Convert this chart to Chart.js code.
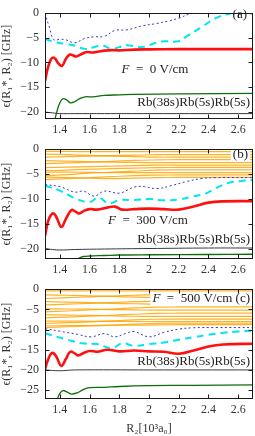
<!DOCTYPE html>
<html><head><meta charset="utf-8">
<script src="https://cdn.jsdelivr.net/npm/chart.js@4/dist/chart.umd.min.js"></script>
<style>
html,body{margin:0;padding:0;background:#fff;}
#wrap{position:relative;width:255px;height:436px;overflow:hidden;background:#fff;}
canvas{position:absolute;left:0;}
</style></head><body>
<div id="wrap">
<canvas id="ca" width="255" height="140" style="top:0px"></canvas>
<canvas id="cb" width="255" height="142" style="top:136px"></canvas>
<canvas id="cc" width="255" height="160" style="top:276px"></canvas>
</div>
<script>
// ---------- tick labels ----------
const xTickValues = [1.4, 1.6, 1.8, 2.0, 2.2, 2.4, 2.6];
const yTicksAB = [-20, -15, -10, -5, 0];
const yTicksC = [-25, -20, -15, -10, -5, 0];

// ---------- panel (a): F = 0 V/cm ----------
const xRedA = [1.3, 1.32, 1.34, 1.355, 1.37, 1.39, 1.415, 1.44, 1.467, 1.49, 1.51, 1.54, 1.58, 1.62, 1.66, 1.7, 1.75, 1.8, 1.9, 2.0, 2.2, 2.4, 2.7];
const redA  = [-13.8, -11.0, -9.4, -9.0, -9.3, -10.2, -10.7, -9.3, -8.4, -8.6, -8.8, -8.4, -7.9, -8.0, -7.8, -7.6, -7.5, -7.55, -7.4, -7.35, -7.3, -7.3, -7.3];
const xBlueA = [1.3, 1.33, 1.36, 1.4, 1.44, 1.5, 1.57, 1.63, 1.7, 1.77, 1.85, 1.95, 2.05, 2.13, 2.2, 2.28, 2.35, 2.5, 2.7];
const blueA  = [0, -2.9, -5.4, -5.3, -5.4, -6.0, -5.1, -4.8, -4.7, -3.5, -3.4, -2.6, -2.1, -1.6, -1.0, -0.1, 0.2, 0.5, 0.8];
const xCyanA = [1.3, 1.37, 1.45, 1.5, 1.57, 1.63, 1.68, 1.75, 1.8, 1.85, 1.95, 2.05, 2.1, 2.2, 2.25, 2.35, 2.45, 2.55, 2.65, 2.7];
const cyanA  = [-5.25, -5.9, -6.3, -6.6, -7.25, -6.9, -6.5, -7.25, -6.9, -6.5, -6.9, -6.0, -5.7, -5.7, -4.75, -2.9, -1.0, -0.1, -0.1, 0];
const xGreenA = [1.36, 1.38, 1.4, 1.42, 1.445, 1.47, 1.5, 1.53, 1.57, 1.62, 1.7, 1.8, 1.9, 2.2, 2.7];
const greenA  = [-22.5, -20.0, -18.2, -17.4, -17.6, -18.2, -18.0, -17.4, -17.0, -17.0, -16.7, -16.6, -16.5, -16.4, -16.3];
const xGrayA = [1.3, 1.35, 1.4, 1.5, 1.7, 2.0, 2.7];
const grayA  = [-20.1, -20.25, -20.4, -20.4, -20.4, -20.4, -20.4];

// ---------- panel (b): F = 300 V/cm ----------
const xRedB = [1.3, 1.32, 1.34, 1.36, 1.38, 1.41, 1.44, 1.478, 1.505, 1.53, 1.565, 1.6, 1.65, 1.72, 1.77, 1.82, 1.9, 2.0, 2.1, 2.2, 2.3, 2.4, 2.5, 2.7];
const redB  = [-17.4, -14.5, -13.2, -12.9, -13.8, -15.6, -14.0, -12.2, -12.5, -12.9, -12.3, -12.0, -12.1, -11.7, -11.5, -12.1, -12.0, -11.9, -12.0, -12.1, -11.5, -10.7, -10.45, -10.4];
const xBlueB = [1.3, 1.4, 1.5, 1.56, 1.63, 1.7, 1.8, 1.9, 1.97, 2.05, 2.15, 2.25, 2.35, 2.45, 2.7];
const blueB  = [-7.1, -7.5, -8.6, -8.4, -9.4, -8.4, -8.8, -7.6, -7.5, -7.9, -7.3, -6.5, -5.9, -5.7, -5.7];
const xCyanB = [1.3, 1.4, 1.5, 1.6, 1.66, 1.73, 1.8, 1.9, 2.0, 2.1, 2.2, 2.29, 2.38, 2.45, 2.53, 2.61, 2.7];
const cyanB  = [-7.3, -8.3, -9.8, -10.6, -9.7, -10.9, -10.2, -10.2, -10.0, -10.25, -10.1, -9.5, -8.9, -7.8, -6.8, -6.4, -6.2];
const xGreenB = [1.5, 1.53, 1.56, 1.6, 1.7, 1.8, 2.0, 2.4, 2.7];
const greenB  = [-22.5, -21.8, -21.5, -21.4, -21.3, -21.2, -21.15, -21.1, -21.05];
const xGrayB = [1.3, 1.35, 1.4, 1.5, 1.7, 2.0, 2.4, 2.7];
const grayB  = [-19.9, -20.1, -20.2, -20.1, -20.0, -19.9, -19.8, -19.8];

// ---------- panel (c): F = 500 V/cm ----------
const xRedC = [1.3, 1.32, 1.34, 1.355, 1.375, 1.41, 1.44, 1.47, 1.5, 1.525, 1.56, 1.6, 1.65, 1.72, 1.8, 1.9, 2.0, 2.1, 2.2, 2.3, 2.4, 2.5, 2.7];
const redC  = [-19.8, -17.5, -16.0, -15.8, -16.6, -19.0, -17.3, -15.5, -15.9, -16.4, -15.8, -15.3, -15.5, -15.0, -15.4, -15.2, -15.4, -15.5, -16.0, -15.2, -14.2, -13.7, -13.5];
const xBlueC = [1.3, 1.4, 1.52, 1.61, 1.7, 1.77, 1.84, 1.9, 2.0, 2.1, 2.2, 2.3, 2.45, 2.7];
const blueC  = [-9.8, -10.4, -11.2, -11.8, -11.0, -11.8, -11.0, -10.5, -11.8, -10.7, -9.9, -9.55, -9.5, -9.5];
const xCyanC = [1.3, 1.45, 1.55, 1.65, 1.75, 1.82, 1.9, 2.0, 2.1, 2.2, 2.3, 2.4, 2.5, 2.6, 2.7];
const cyanC  = [-10.9, -12.5, -13.4, -13.6, -14.6, -13.4, -14.05, -13.6, -13.2, -12.5, -11.9, -11.3, -10.8, -10.5, -10.25];
const xGreenC = [1.38, 1.4, 1.42, 1.45, 1.48, 1.52, 1.56, 1.6, 1.7, 1.8, 2.0, 2.3, 2.7];
const greenC  = [-27.5, -25.8, -25.1, -25.5, -26.0, -25.6, -24.8, -24.4, -24.3, -24.1, -23.9, -23.8, -23.7];
const xGrayC = [1.3, 1.4, 1.5, 2.0, 2.7];
const grayC  = [-20.0, -20.2, -20.0, -20.0, -20.0];

// ---------- orange manifold lines (panels b, c) ----------
const xOrange = [1.3, 1.45, 1.6, 1.75, 1.9, 2.05, 2.2, 2.35, 2.5, 2.7];
const orangeB = [
  [-0.45, -0.45, -0.5, -0.5, -0.5, -0.5, -0.5, -0.5, -0.5, -0.5],
  [-1.6, -1.5, -1.4, -1.3, -1.2, -1.1, -1.1, -1.1, -1.1, -1.1],
  [-1.0, -1.1, -1.25, -1.4, -1.5, -1.6, -1.6, -1.6, -1.6, -1.6],
  [-2.9, -2.75, -2.6, -2.45, -2.25, -2.15, -2.1, -2.1, -2.1, -2.1],
  [-2.3, -2.4, -2.5, -2.6, -2.65, -2.7, -2.7, -2.7, -2.7, -2.7],
  [-3.7, -3.6, -3.5, -3.4, -3.3, -3.2, -3.2, -3.2, -3.2, -3.2],
  [-4.3, -4.2, -4.0, -3.9, -3.8, -3.7, -3.65, -3.65, -3.65, -3.65],
  [-5.3, -5.1, -4.8, -4.6, -4.4, -4.2, -4.15, -4.15, -4.15, -4.15],
  [-4.6, -4.6, -4.65, -4.7, -4.7, -4.7, -4.7, -4.7, -4.7, -4.7],
  [-6.1, -5.9, -5.7, -5.5, -5.3, -5.2, -5.15, -5.15, -5.15, -5.15],
  [-5.6, -5.7, -5.8, -5.9, -5.8, -5.7, -5.65, -5.65, -5.65, -5.65]
];
const orangeC = [
  [-0.4, -0.4, -0.4, -0.4, -0.4, -0.4, -0.4, -0.4, -0.4, -0.4],
  [-2.3, -2.1, -1.9, -1.7, -1.5, -1.35, -1.3, -1.3, -1.3, -1.3],
  [-1.4, -1.5, -1.65, -1.8, -1.95, -2.05, -2.1, -2.1, -2.1, -2.1],
  [-3.9, -3.7, -3.5, -3.3, -3.1, -2.95, -2.9, -2.9, -2.9, -2.9],
  [-3.1, -3.2, -3.35, -3.5, -3.6, -3.7, -3.7, -3.7, -3.7, -3.7],
  [-5.6, -5.4, -5.15, -4.9, -4.65, -4.45, -4.4, -4.4, -4.4, -4.4],
  [-4.85, -4.9, -4.95, -5.05, -5.1, -5.2, -5.2, -5.2, -5.2, -5.2],
  [-7.1, -6.9, -6.7, -6.45, -6.2, -6.0, -5.95, -5.95, -5.95, -5.95],
  [-6.3, -6.4, -6.5, -6.6, -6.7, -6.75, -6.75, -6.75, -6.75, -6.75],
  [-8.5, -8.3, -8.1, -7.85, -7.6, -7.45, -7.4, -7.4, -7.4, -7.4],
  [-7.9, -7.9, -7.95, -7.95, -8.0, -8.0, -8.0, -8.0, -8.0, -8.0],
  [-9.5, -9.3, -9.1, -8.9, -8.65, -8.45, -8.4, -8.4, -8.4, -8.4],
  [-9.1, -9.0, -9.0, -8.95, -8.9, -8.85, -8.8, -8.8, -8.8, -8.8]
];

// ---------- helpers ----------
const SERIF = "'Liberation Serif', 'DejaVu Serif', serif";
const pts = (xs, ys) => xs.map((x, i) => ({x, y: ys[i]}));
const lineDs = (xs, ys, color, width, dash) => ({
  data: pts(xs, ys), borderColor: color, borderWidth: width, borderDash: dash || [],
  pointRadius: 0, tension: 0.4, fill: false
});
const RED = '#ff1010', CYAN = '#00e6f0', BLUE = '#3a3ab4', GREEN = '#0b6e0b', GRAY = '#3a3a3a', ORANGE = 'rgba(255,165,0,0.85)';

const framePlugin = {
  id: 'frame',
  afterDatasetsDraw(chart, args, opts) {
    const {ctx, chartArea: a, scales: {x, y}} = chart;
    ctx.save();
    (opts.labels || []).forEach(lb => {
      const parts = lb.parts;
      let w = 0;
      parts.forEach(p => { ctx.font = (p.italic ? 'italic ' : '') + '13px ' + SERIF; p.w = ctx.measureText(p.t).width; w += p.w; });
      let x0 = lb.align === 'center' ? lb.x - w / 2 : lb.x - w;
      const cy = lb.y - opts.offset;
      if (lb.box) { ctx.fillStyle = '#fff'; ctx.fillRect(x0 - 2, cy - 7, w + 4, 14); }
      ctx.fillStyle = '#222'; ctx.textBaseline = 'middle';
      parts.forEach(p => { ctx.font = (p.italic ? 'italic ' : '') + '13px ' + SERIF; ctx.fillText(p.t, x0, cy); x0 += p.w; });
    });
    ctx.strokeStyle = '#1a1a1a'; ctx.lineWidth = 1;
    const L = Math.round(a.left) + 0.5, R = Math.round(a.right) - 0.5, T = Math.round(a.top) + 0.5, B = Math.round(a.bottom) - 0.5;
    ctx.strokeRect(L, T, R - L, B - T);
    const TL = 4;
    ctx.beginPath();
    x.ticks.forEach(t => { const px = Math.round(x.getPixelForValue(t.value)) + 0.5; ctx.moveTo(px, B); ctx.lineTo(px, B - TL); ctx.moveTo(px, T); ctx.lineTo(px, T + TL); });
    y.ticks.forEach(t => { const py = Math.round(y.getPixelForValue(t.value)) + 0.5; ctx.moveTo(L, py); ctx.lineTo(L + TL, py); ctx.moveTo(R, py); ctx.lineTo(R - TL, py); });
    ctx.stroke();
    ctx.restore();
  }
};

function makeChart(id, datasets, yMin, yTicks, padTop, xAxisH, showXTitle, labels, offset) {
  return new Chart(document.getElementById(id), {
    type: 'line',
    data: {datasets},
    options: {
      responsive: false, animation: false, devicePixelRatio: 1,
      layout: {padding: {top: padTop, right: 2, left: 0, bottom: 0}},
      plugins: {legend: {display: false}, tooltip: {enabled: false}, frame: {labels, offset}},
      scales: {
        x: {
          type: 'linear', min: 1.3, max: 2.7,
          grid: {display: false, drawTicks: false}, border: {display: false},
          afterBuildTicks: s => { s.ticks = xTickValues.map(v => ({value: v})); },
          ticks: {padding: 4, color: '#333', maxRotation: 0, autoSkip: false,
                  font: {family: SERIF, size: 12},
                  callback: v => String(Math.round(v * 10) / 10)},
          title: {display: showXTitle, text: 'R₂[10³a₀]', color: '#333', font: {family: SERIF, size: 12}, padding: 0},
          afterFit: s => { s.height = xAxisH; }
        },
        y: {
          min: yMin, max: 0,
          grid: {display: false, drawTicks: false}, border: {display: false},
          afterBuildTicks: s => { s.ticks = yTicks.map(v => ({value: v})); },
          ticks: {padding: 6, color: '#333', autoSkip: false,
                  font: {family: SERIF, size: 12},
                  callback: v => v < 0 ? '\u2212' + Math.abs(v) : String(v)},
          title: {display: true, text: 'ϵ(R₁*, R₂) [GHz]', color: '#333', font: {family: SERIF, size: 12}, padding: {top: 0, bottom: 0}},
          afterFit: s => { s.width = 45; }
        }
      }
    },
    plugins: [framePlugin]
  });
}

const rbLabel = {t: 'Rb(38s)Rb(5s)Rb(5s)'};

makeChart('ca', [
  lineDs(xRedA, redA, RED, 2.6),
  lineDs(xBlueA, blueA, BLUE, 1, [2, 2.5]),
  lineDs(xCyanA, cyanA, CYAN, 2, [7, 5]),
  lineDs(xGreenA, greenA, GREEN, 1.3),
  lineDs(xGrayA, grayA, GRAY, 1)
], -21.5, yTicksAB, 5, 21, false, [
  {parts: [{t: '(a)'}], x: 247, y: 15, box: true},
  {parts: [{t: 'F', italic: true}, {t: '\u2002=\u20020 V/cm'}], x: 155, y: 70, align: 'center'},
  {parts: [rbLabel], x: 250, y: 103, box: true}
], 0);

makeChart('cb', [
  lineDs(xRedB, redB, RED, 2.6),
  lineDs(xBlueB, blueB, BLUE, 1, [2, 2.5]),
  lineDs(xCyanB, cyanB, CYAN, 2, [7, 5]),
  lineDs(xGreenB, greenB, GREEN, 1.3),
  lineDs(xGrayB, grayB, GRAY, 1),
  ...orangeB.map(o => lineDs(xOrange, o, ORANGE, 1.2))
], -22, yTicksAB, 9, 19, false, [
  {parts: [{t: '(b)'}], x: 248, y: 155, box: true},
  {parts: [{t: 'F', italic: true}, {t: '\u2002=\u2002300 V/cm'}], x: 148, y: 221, align: 'center'},
  {parts: [rbLabel], x: 250, y: 240, box: true}
], 136);

makeChart('cc', [
  lineDs(xRedC, redC, RED, 2.6),
  lineDs(xBlueC, blueC, BLUE, 1, [2, 2.5]),
  lineDs(xCyanC, cyanC, CYAN, 2, [7, 5]),
  lineDs(xGreenC, greenC, GREEN, 1.3),
  lineDs(xGrayC, grayC, GRAY, 1),
  ...orangeC.map(o => lineDs(xOrange, o, ORANGE, 1.2))
], -27.2, yTicksC, 9, 37, true, [
  {parts: [{t: 'F', italic: true}, {t: '\u2002=\u2002500 V/cm (c)'}], x: 250, y: 299, box: true},
  {parts: [rbLabel], x: 250, y: 362, box: true}
], 276);
</script>
</body></html>
